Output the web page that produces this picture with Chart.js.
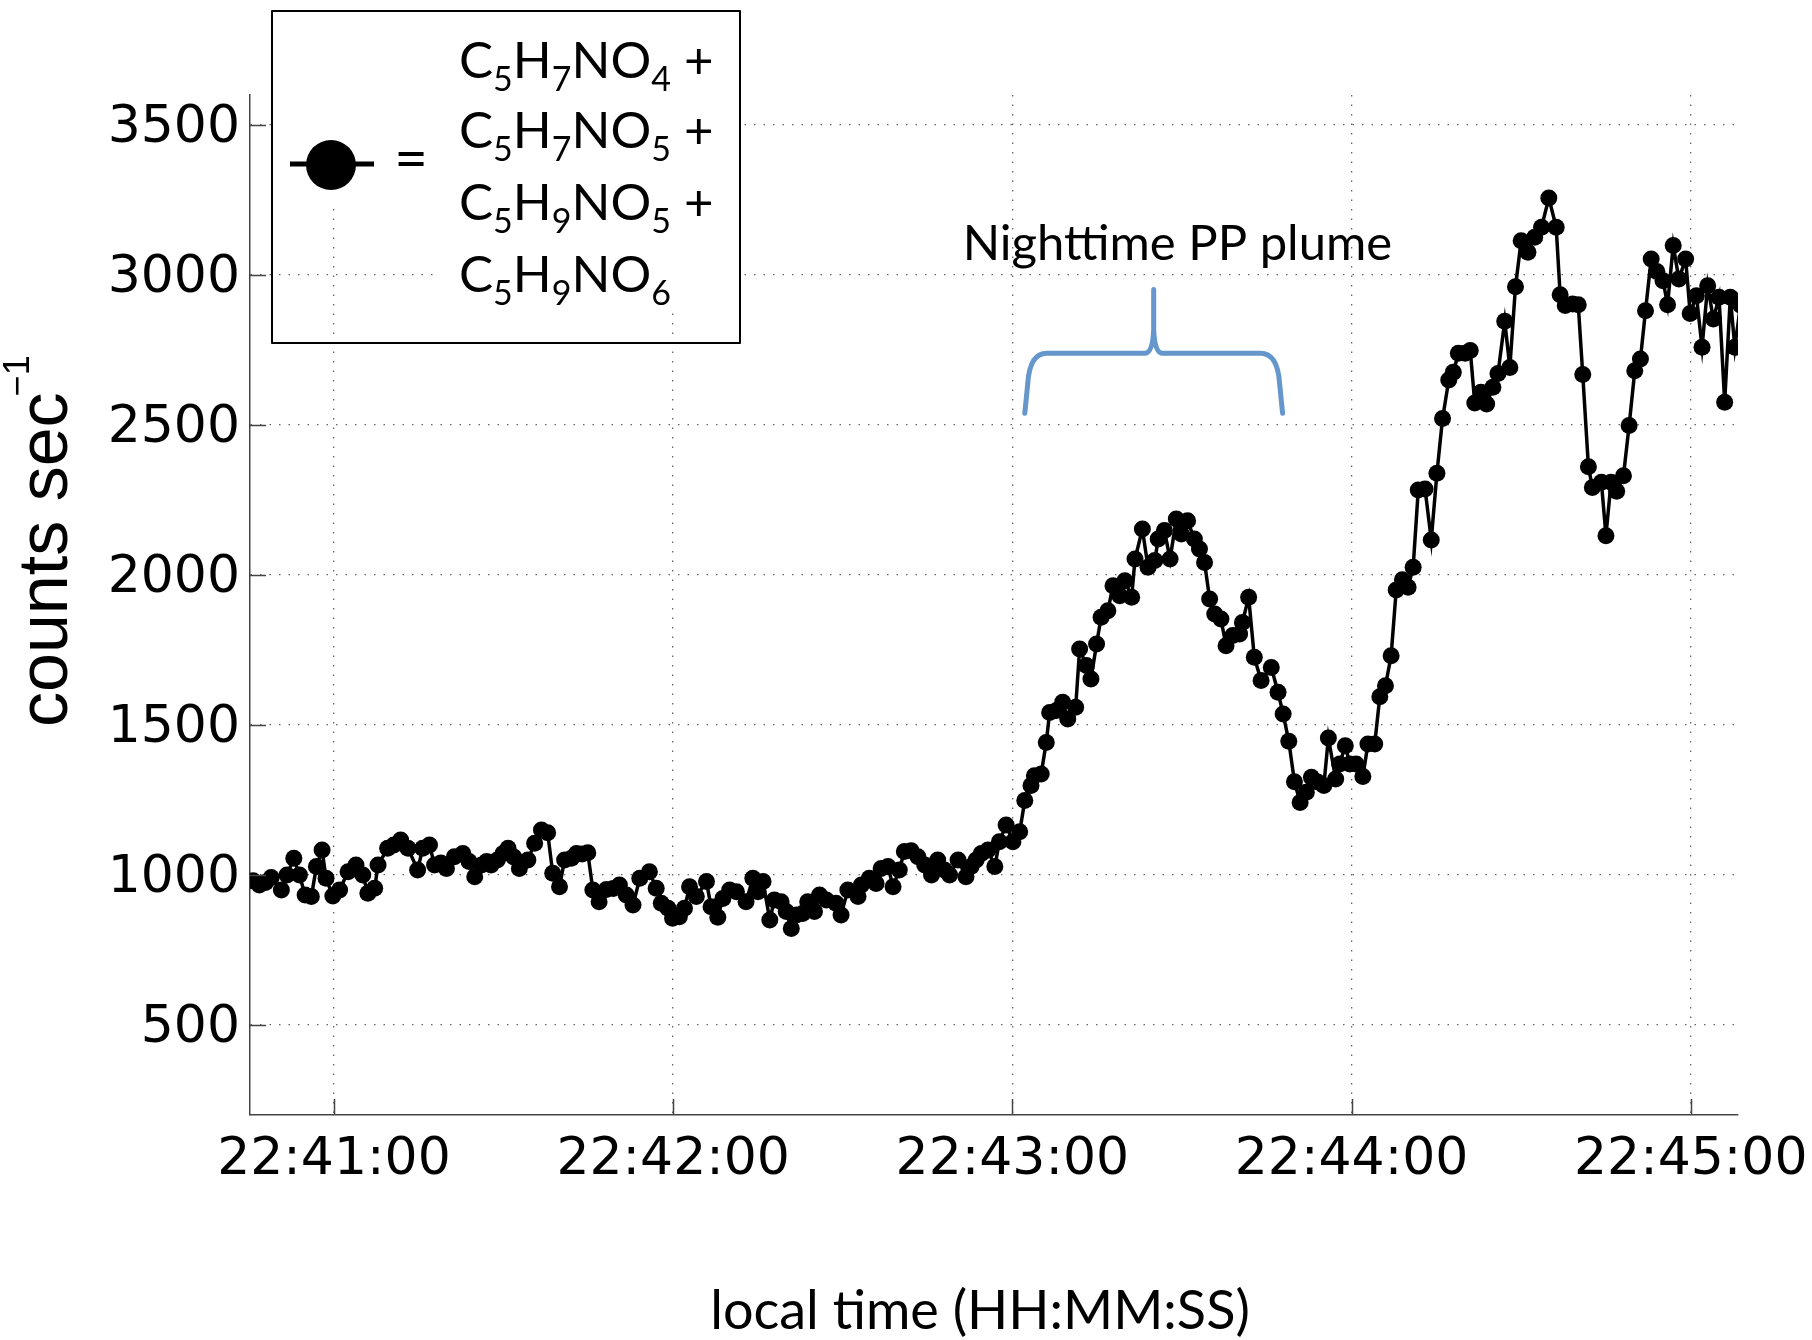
<!DOCTYPE html>
<html><head><meta charset="utf-8">
<script src="https://cdn.jsdelivr.net/npm/chart.js@4"></script>
<style>html,body{margin:0;padding:0;background:#fff}#wrap{width:1812px;height:1340px;position:relative}</style>
</head><body><div id="wrap"><canvas id="c"></canvas></div>
<script>
// seconds after 22:40:00 local time
const timeSec = [
45.7,46.8,47.9,48.9,50.7,51.7,52.9,53.9,54.9,56.0,56.9,57.9,58.6,59.8,61.0,62.5,63.9,65.1,66.0,67.2,
67.8,69.5,70.6,71.8,73.1,74.8,75.7,76.9,77.8,78.9,79.9,81.3,82.8,83.9,84.9,86.1,87.0,87.8,88.9,89.9,
90.8,91.8,92.8,94.3,95.5,96.7,97.8,98.7,99.9,100.8,102.0,102.9,103.9,104.9,105.8,106.9,108.2,109.4,110.5,111.7,
112.9,114.1,115.8,117.0,117.9,119.1,119.9,121.1,122.0,122.9,124.1,125.9,126.7,127.9,128.8,130.0,131.2,132.9,134.1,135.0,
135.9,137.1,137.9,139.1,140.0,140.9,141.8,142.9,143.8,145.0,145.9,147.1,148.8,149.7,150.9,152.7,153.3,154.7,155.9,156.8,
158.0,158.9,160.0,160.9,162.1,163.3,164.5,165.7,166.8,168.0,168.9,170.4,171.8,172.7,173.6,174.5,175.7,176.9,177.7,178.9,
180.1,181.3,182.2,183.3,183.9,185.1,186.0,186.6,187.8,188.9,189.8,191.2,191.9,193.1,193.9,194.9,195.7,196.9,197.8,199.0,
199.9,201.1,201.7,203.0,204.0,205.2,205.8,206.9,207.9,209.0,209.9,211.0,212.2,213.1,214.0,214.9,215.8,216.9,217.8,219.0,
220.2,220.7,221.8,222.8,224.0,225.8,227.0,227.9,228.9,229.9,230.9,232.0,232.9,234.0,235.1,235.9,237.2,237.9,238.9,239.7,
240.8,242.0,242.9,244.1,245.0,246.0,247.0,247.9,249.0,250.0,250.9,251.8,253.0,254.1,255.1,256.1,257.2,258.0,258.9,260.1,
261.0,261.8,262.9,263.9,265.0,265.9,267.1,268.0,269.0,270.0,271.2,272.4,273.6,274.9,276.2,276.9,277.8,279.1,280.1,280.9,
281.9,282.6,284.2,285.0,285.9,286.9,288.1,289.1,290.1,291.1,292.0,293.0,294.0,295.1,295.9,296.9,297.9,299.1,299.9,301.0,
302.0,303.0,304.0,305.0,306.0,307.0,307.8,308.8
];
const counts = [
981,967,975,992,950,1000,1056,1000,933,928,1028,1083,989,930,950,1011,1033,1000,939,956,
1033,1089,1100,1117,1089,1017,1089,1100,1033,1040,1022,1061,1072,1045,994,1033,1045,1033,1050,1072,
1089,1060,1022,1050,1106,1150,1141,1006,961,1050,1056,1072,1070,1074,950,911,952,955,967,933,
900,989,1011,956,906,889,856,861,889,961,928,978,894,859,922,950,944,911,989,944,
978,850,917,911,878,822,867,872,911,878,933,917,906,867,950,928,967,989,972,1022,
1028,961,1017,1078,1081,1061,1033,1000,1050,1017,1000,1050,994,1028,1050,1072,1083,1028,1111,1167,
1111,1144,1248,1298,1331,1337,1442,1542,1548,1576,1520,1559,1753,1698,1653,1770,1859,1881,1964,1931,
1981,1926,2053,2153,2026,2048,2120,2148,2053,2187,2137,2181,2120,2087,2042,1920,1870,1853,1764,1798,
1803,1842,1926,1726,1648,1692,1609,1537,1446,1311,1242,1276,1326,1310,1298,1457,1320,1370,1431,1370,
1370,1328,1437,1437,1594,1631,1731,1950,1984,1959,2026,2283,2287,2117,2339,2522,2650,2676,2739,2739,
2748,2573,2609,2570,2626,2672,2846,2692,2961,3114,3076,3126,3159,3257,3159,2934,2898,2903,2901,2668,
2361,2292,2309,2131,2309,2279,2331,2498,2681,2720,2881,3053,3012,2981,2901,3098,2987,3053,2872,2931,
2759,2964,2853,2926,2576,2926,2759,2900
];
const xTickValues = [60, 120, 180, 240, 300];
const xTickLabels = ['22:41:00', '22:42:00', '22:43:00', '22:44:00', '22:45:00'];
const yTickValues = [500, 1000, 1500, 2000, 2500, 3000, 3500];
const yTickLabels = ['500', '1000', '1500', '2000', '2500', '3000', '3500'];
const xTitle = 'local time (HH:MM:SS)';
const yTitleMain = 'counts sec';
const yTitleSup = '\u22121';
const legendFormulas = ['C_5H_7NO_4 +', 'C_5H_7NO_5 +', 'C_5H_9NO_5 +', 'C_5H_9NO_6'];
const plumeLabel = 'Nighttime PP plume';
// bracket anchors in data units: [left x, apex x, right x], [arm bottom y, bar y, apex y]
const plumeBracketX = [182.2, 205.0, 227.8];
const plumeBracketY = [2539, 2739, 2952];
const plumeLabelPos = [209.2, 3049];

const overlay = {
  id: 'overlay',
  afterDatasetsDraw(chart) {
    const ctx = chart.ctx, xs = chart.scales.x, ys = chart.scales.y;
    const area = chart.chartArea;
    ctx.save();
    // inward tick marks
    ctx.strokeStyle = '#444'; ctx.lineWidth = 1.5;
    ctx.beginPath();
    xTickValues.forEach(v => { const p = Math.round(xs.getPixelForValue(v)) + 0.5; ctx.moveTo(p, area.bottom); ctx.lineTo(p, area.bottom - 16); });
    yTickValues.forEach(v => { const p = Math.round(ys.getPixelForValue(v)) + 0.5; ctx.moveTo(area.left, p); ctx.lineTo(area.left + 16, p); });
    ctx.stroke();
    // bracket
    const L = xs.getPixelForValue(plumeBracketX[0]), M = xs.getPixelForValue(plumeBracketX[1]), R = xs.getPixelForValue(plumeBracketX[2]);
    const yb = ys.getPixelForValue(plumeBracketY[0]), yh = ys.getPixelForValue(plumeBracketY[1]), ya = ys.getPixelForValue(plumeBracketY[2]);
    ctx.strokeStyle = '#6597cc'; ctx.lineWidth = 5; ctx.lineCap = 'round'; ctx.lineJoin = 'round';
    ctx.beginPath();
    ctx.moveTo(L, yb); ctx.lineTo(L + 3, yh + 30); ctx.quadraticCurveTo(L + 5, yh, L + 22, yh);
    ctx.lineTo(M - 9, yh); ctx.quadraticCurveTo(M - 1, yh, M, yh - 24); ctx.lineTo(M, ya);
    ctx.moveTo(M, yh - 24); ctx.quadraticCurveTo(M + 1, yh, M + 9, yh); ctx.lineTo(R - 22, yh);
    ctx.quadraticCurveTo(R - 5, yh, R - 3, yh + 30); ctx.lineTo(R, yb);
    ctx.stroke();
    // plume label
    ctx.fillStyle = '#000'; ctx.font = '49px Lato'; ctx.textAlign = 'center'; ctx.textBaseline = 'alphabetic';
    ctx.fillText(plumeLabel, xs.getPixelForValue(plumeLabelPos[0]), ys.getPixelForValue(plumeLabelPos[1]));
    // x axis title
    ctx.font = '54px Lato';
    ctx.fillText(xTitle, 980, 1329);
    // legend box
    ctx.fillStyle = '#fff';
    ctx.fillRect(433, 12, 306, 300);
    ctx.fillRect(272, 12, 161, 197);
    ctx.strokeStyle = '#000'; ctx.lineWidth = 2; ctx.lineCap = 'butt';
    ctx.strokeRect(272, 11, 468, 332);
    ctx.lineWidth = 5; ctx.beginPath(); ctx.moveTo(290, 164); ctx.lineTo(374, 164); ctx.stroke();
    ctx.fillStyle = '#000'; ctx.beginPath(); ctx.arc(331, 165, 25, 0, Math.PI * 2); ctx.fill();
    ctx.font = '58px Lato'; ctx.textAlign = 'center'; ctx.fillText('=', 411, 179);
    ctx.textAlign = 'left';
    const baselines = [78, 148, 220, 292];
    legendFormulas.forEach((f, i) => {
      let x = 459; const y = baselines[i];
      const parts = f.split(/(_\d)/).filter(s => s.length);
      parts.forEach(p => {
        if (p[0] === '_') { ctx.font = '34px Lato'; ctx.fillText(p.slice(1), x, y + 13); x += ctx.measureText(p.slice(1)).width; }
        else { ctx.font = '51px Lato'; ctx.fillText(p, x, y); x += ctx.measureText(p).width; }
      });
    });
    // y axis title
    ctx.save();
    ctx.translate(67, 727); ctx.rotate(-Math.PI / 2);
    ctx.font = '70px "Liberation Sans"'; ctx.textAlign = 'left'; ctx.textBaseline = 'alphabetic';
    ctx.fillText(yTitleMain, 0, 0);
    const w = ctx.measureText(yTitleMain).width;
    ctx.font = '36px "Liberation Sans"';
    ctx.fillText(yTitleSup, w - 4, -38);
    ctx.restore();
    ctx.restore();
  }
};

new Chart(document.getElementById('c'), {
  type: 'line',
  data: { datasets: [{
    data: timeSec.map((t, i) => ({ x: t, y: counts[i] })),
    borderColor: '#000', borderWidth: 3.5, tension: 0,
    pointRadius: 8.5, pointBackgroundColor: '#000', pointBorderWidth: 0, pointHoverRadius: 8.5
  }]},
  options: {
    responsive: true, maintainAspectRatio: false, animation: false, devicePixelRatio: 1,
    layout: { padding: { top: 95, right: 74, left: 0, bottom: 0 } },
    plugins: { legend: { display: false }, tooltip: { enabled: false } },
    events: [],
    scales: {
      x: {
        type: 'linear', min: 45.15, max: 308.36,
        afterBuildTicks: s => { s.ticks = xTickValues.map(v => ({ value: v })); },
        afterFit: s => { s.height = 225; s.paddingLeft = 0; s.paddingRight = 0; },
        ticks: { callback: v => xTickLabels[xTickValues.indexOf(v)], font: { family: 'DejaVu Sans', size: 52 }, color: '#000', padding: 14, maxRotation: 0, autoSkip: false },
        grid: { color: '#666', lineWidth: 1.3, drawTicks: false },
        border: { display: true, color: '#444', width: 1.5, dash: [1.5, 8] }
      },
      y: {
        type: 'linear', min: 200, max: 3600,
        afterBuildTicks: s => { s.ticks = yTickValues.map(v => ({ value: v })); },
        afterFit: s => { s.width = 250; s.paddingTop = 0; s.paddingBottom = 0; },
        ticks: { callback: v => yTickLabels[yTickValues.indexOf(v)], font: { family: 'DejaVu Sans', size: 52 }, color: '#000', padding: 10, labelOffset: 3 },
        grid: { color: '#666', lineWidth: 1.3, drawTicks: false },
        border: { display: true, color: '#444', width: 1.5, dash: [1.5, 8] }
      }
    }
  },
  plugins: [overlay]
});
</script></body></html>
